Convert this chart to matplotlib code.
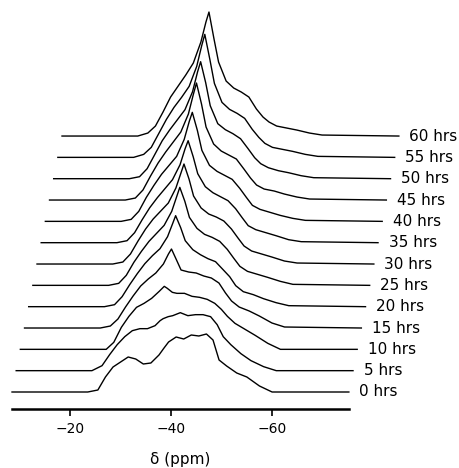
import matplotlib
matplotlib.use("Agg")
import matplotlib.pyplot as plt
import numpy as np

# chemical shift grid (ppm) shared by all spectra
ppm = [-8.5, -23.5, -25.5, -27, -28.5, -30, -31.5, -33, -34.5, -36, -37, -37.6,
       -38.6, -39.5, -41, -42.5, -44, -45.5, -47, -48.3, -49.5, -51, -53, -55,
       -57.5, -60, -75.2]

times = [0, 5, 10, 15, 20, 25, 30, 35, 40, 45, 50, 55, 60]

# intensities (arbitrary units)
s00 = [0, 0, 2, 15, 25, 30, 35, 33, 28, 29, 34, 37, 44, 50, 55, 53, 57, 56, 58, 52, 32, 26, 19, 15, 6, 0, 0]
s05 = [0, 0, 5, 16, 26, 34, 40, 42, 42, 45, 50, 52, 54, 55, 58, 55, 56, 56, 54, 46, 34, 26, 17, 10, 4, 0, 0]
s10 = [0, 0, 0, 7, 22, 33, 42, 46, 51, 58, 63, 61, 57, 56, 56, 53, 52, 50, 46, 40, 33, 26, 20, 14, 6, 0, 0]
s15 = [0, 0, 2, 9, 21, 32, 42, 49, 55, 64, 74, 79, 68, 58, 56, 55, 52, 50, 45, 35, 27, 21, 17, 12, 5, 1, 0]
s20 = [0, 0, 2, 10, 22, 33, 43, 51, 58, 70, 83, 91, 79, 66, 57, 52, 48, 45, 37, 30, 21, 15, 12, 8, 4, 1, 0]
s25 = [0, 0, 2, 10, 23, 34, 44, 52, 60, 74, 89, 98, 84, 68, 57, 51, 48, 44, 36, 27, 19, 14, 11, 8, 4, 1, 0]
s30 = [0, 0, 2, 10, 23, 35, 45, 53, 61, 76, 91, 100, 85, 68, 56, 50, 47, 43, 35, 26, 18, 13, 10, 7, 3, 1, 0]
s35 = [0, 0, 2, 10, 23, 35, 45, 54, 63, 78, 94, 102, 86, 69, 56, 50, 46, 42, 34, 25, 17, 13, 10, 7, 3, 1, 0]
s40 = [0, 0, 2, 10, 24, 36, 47, 56, 65, 82, 100, 109, 91, 71, 56, 50, 46, 42, 33, 24, 16, 12, 9, 6, 3, 1, 0]
s45 = [0, 0, 2, 10, 24, 37, 48, 58, 68, 86, 106, 117, 96, 73, 56, 49, 45, 41, 31, 22, 15, 11, 9, 6, 3, 1, 0]
s50 = [0, 0, 2, 10, 24, 38, 49, 59, 69, 87, 107, 117, 96, 73, 55, 49, 45, 40, 30, 21, 15, 11, 8, 6, 3, 1, 0]
s55 = [0, 0, 3, 10, 24, 38, 50, 60, 71, 91, 112, 123, 98, 74, 55, 48, 44, 39, 28, 20, 14, 10, 8, 6, 3, 1, 0]
s60 = [0, 0, 3, 10, 24, 39, 50, 61, 73, 94, 114, 124, 97, 74, 55, 48, 44, 39, 27, 19, 14, 10, 8, 6, 3, 1, 0]

spectra = [s00, s05, s10, s15, s20, s25, s30, s35, s40, s45, s50, s55, s60]

# waterfall offsets (style)
DX = 0.825   # ppm shift per trace
DY = 21.33   # vertical shift per trace

fig = plt.figure(figsize=(4.6, 4.68), dpi=100)
ax = fig.add_axes([0, 0, 1, 1])

x0 = np.array(ppm)
for i, (t, s) in enumerate(zip(times, spectra)):
    ax.plot(x0 - i * DX, np.array(s) + i * DY, color="black", lw=1.0)
    ax.text(x0[-1] - i * DX - 2.1, i * DY, f"{t} hrs", va="center", ha="left",
            fontsize=11, family="DejaVu Sans")

ax.set_xlim(-6.12, -97.21)
ax.set_ylim(-76, 392)

for side in ["left", "right", "top"]:
    ax.spines[side].set_visible(False)
ax.spines["bottom"].set_position(("data", -17.3))
ax.spines["bottom"].set_bounds(ppm[0], ppm[-1])
ax.spines["bottom"].set_linewidth(1.8)
ax.set_yticks([])
ax.set_xticks([-20, -40, -60])
ax.set_xticklabels(["\u221220", "\u221240", "\u221260"])
ax.tick_params(axis="x", direction="out", length=5, width=1.2, pad=4, labelsize=10)
ax.set_xlabel("\u03b4 (ppm)", fontsize=11)
ax.xaxis.set_label_coords(0.392, 0.034)

fig.savefig("out.png", dpi=100)
